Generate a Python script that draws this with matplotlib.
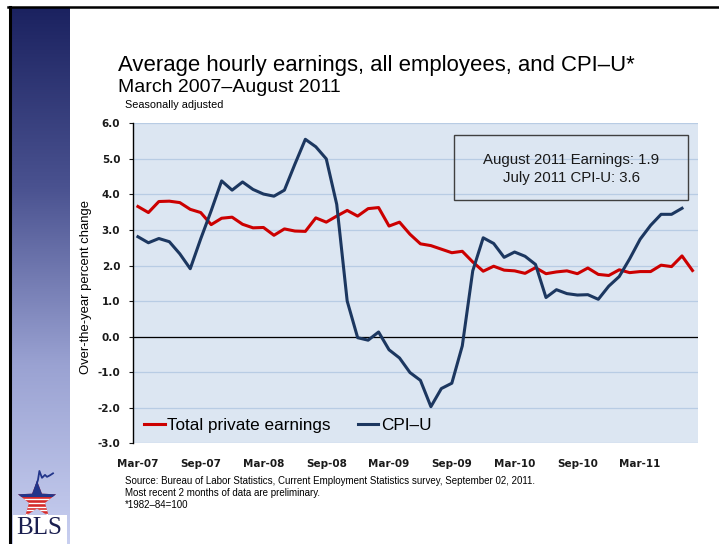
# %%
import numpy as np
import pandas as pd
import matplotlib
matplotlib.use('Agg')
from matplotlib import pyplot as plt
from matplotlib.colors import LinearSegmentedColormap
from matplotlib.patches import Rectangle, Polygon
from matplotlib.lines import Line2D

plt.rcParams['font.family'] = ['Liberation Sans', 'DejaVu Sans']

# %% values (over-the-year % change)
months = pd.date_range('2007-03-01', '2011-08-01', freq='MS')
earnings = [3.66, 3.49, 3.80, 3.81, 3.77, 3.58, 3.49, 3.15, 3.33, 3.36,
            3.16, 3.06, 3.07, 2.85, 3.03, 2.97, 2.96, 3.34, 3.22, 3.39,
            3.55, 3.39, 3.60, 3.63, 3.11, 3.22, 2.88, 2.61, 2.56, 2.46,
            2.36, 2.40, 2.10, 1.84, 1.98, 1.87, 1.85, 1.78, 1.94, 1.77,
            1.82, 1.85, 1.77, 1.93, 1.75, 1.72, 1.88, 1.80, 1.83, 1.83,
            2.01, 1.97, 2.27, 1.86]
cpi = [2.81, 2.64, 2.76, 2.67, 2.33, 1.91, 2.75, 3.54, 4.38, 4.12,
       4.35, 4.14, 4.01, 3.95, 4.12, 4.85, 5.55, 5.34, 5.00, 3.72,
       1.00, -0.03, -0.10, 0.13, -0.37, -0.60, -1.01, -1.23, -1.97, -1.46,
       -1.31, -0.26, 1.85, 2.78, 2.62, 2.23, 2.38, 2.26, 2.03, 1.10,
       1.32, 1.21, 1.17, 1.18, 1.05, 1.42, 1.69, 2.19, 2.74, 3.13,
       3.44, 3.44, 3.61]
yticks = np.arange(-3, 6.01, 1.0)
tick_step = 6

# %%
W, H = 719, 544
fig = plt.figure(figsize=(W / 100, H / 100), dpi=100)

def fx(px):
    return px / W

def fy(py):
    return 1 - py / H

# left sidebar gradient
side = fig.add_axes([fx(11), 0, fx(70) - fx(11), fy(8)])
grad = np.linspace(0, 1, 256).reshape(-1, 1)
side_cmap = LinearSegmentedColormap.from_list('side', ['#1b2260', '#4a5290', '#9aa2d2', '#c8cff0'])
side.imshow(grad, aspect='auto', cmap=side_cmap, extent=[0, 1, 0, 1])
side.axis('off')

fig.add_artist(Line2D([fx(8), 1], [fy(7), fy(7)], color='black', lw=1.8))
fig.add_artist(Line2D([fx(9.5), fx(9.5)], [fy(7), 0], color='black', lw=2.2))

# BLS logo
fig.add_artist(Rectangle((fx(13), 0), fx(67) - fx(13), fy(515), transform=fig.transFigure,
                         fc='white', ec='none'))
logo = fig.add_axes([fx(14), fy(517), fx(60) - fx(14), fy(470) - fy(517)])
logo.set_xlim(-1.15, 1.15)
logo.set_ylim(-0.85, 1.55)
logo.axis('off')
ang = np.pi / 2 + np.arange(10) * np.pi / 5
rad = np.where(np.arange(10) % 2 == 0, 1.0, 0.42)
star = Polygon(np.column_stack([rad * np.cos(ang), rad * np.sin(ang)]), closed=True,
               fc='#d42a2a', ec='none')
logo.add_patch(star)
for yy in np.linspace(-0.7, 0.05, 5):
    ln, = logo.plot([-1.2, 1.2], [yy, yy], color='white', lw=1.0)
    ln.set_clip_path(star)
top = Rectangle((-1.2, 0.17), 2.4, 1.0, fc='#22358a', ec='none')
logo.add_patch(top)
top.set_clip_path(star)
logo.plot([-0.1, 0.05, 0.12, 0.25, 0.4, 0.5, 0.65, 0.8],
          [0.55, 1.05, 1.5, 1.15, 1.3, 1.2, 1.28, 1.38], color='#22358a', lw=1.3)
fig.text(fx(39), fy(528), 'BLS', ha='center', va='center', fontsize=18,
         family='Liberation Serif', color='#1b1f50')

# %% main chart
ax = fig.add_axes([fx(132.7), fy(443.3), fx(697.7) - fx(132.7), fy(123.3) - fy(443.3)])
ax.set_facecolor('#dce6f2')
x = np.arange(len(months))
ax.plot(x, earnings, color='#cc0000', lw=2.2, label='Total private earnings', zorder=3)
ax.plot(x[:len(cpi)], cpi, color='#1c3760', lw=2.2, label='CPI\u2013U', zorder=3)
ax.set_xlim(-0.5, len(months) - 0.5)
ax.set_ylim(yticks[0], yticks[-1])
ax.set_yticks(yticks)
ax.set_yticklabels([f'{v:.1f}' for v in yticks], fontweight='bold', family='DejaVu Sans')
ax.set_xticks(x[::tick_step])
ax.set_xticklabels([m.strftime('%b-%y') for m in months[::tick_step]],
                   fontweight='bold', family='DejaVu Sans')
ax.grid(axis='y', color='#b8cce4', lw=0.9)
ax.set_axisbelow(True)
ax.axhline(0, color='black', lw=0.9, zorder=2)
for s in ['top', 'right', 'bottom']:
    ax.spines[s].set_visible(False)
ax.spines['left'].set_linewidth(1.0)
ax.tick_params(axis='y', length=3, width=0.8, pad=6, labelsize=7.5, colors='#1a1a1a')
ax.tick_params(axis='x', length=0, pad=11, labelsize=7.5, colors='#1a1a1a')

ax.legend(loc='center left', bbox_to_anchor=(0.02, 0.055), ncol=2, frameon=False,
          fontsize=12.3, handlelength=1.2, handletextpad=0.15, columnspacing=1.6,
          borderpad=0, borderaxespad=0)

ax.add_patch(Rectangle((0.569, 0.760), 0.414, 0.2025, transform=ax.transAxes,
                       fill=False, ec='#404040', lw=1.0, zorder=4))
ax.text(0.776, 0.885, f'August 2011 Earnings: {earnings[-1]:.1f}', transform=ax.transAxes,
        ha='center', va='center', fontsize=10.8, color='#1a1a1a')
ax.text(0.776, 0.828, f'July 2011 CPI-U: {cpi[-1]:.1f}', transform=ax.transAxes,
        ha='center', va='center', fontsize=10.8, color='#1a1a1a')

# %% titles and notes
fig.text(fx(118), fy(65), 'Average hourly earnings, all employees, and CPI\u2013U*',
         fontsize=15.9, va='center')
fig.text(fx(118), fy(88), 'March 2007\u2013August 2011', fontsize=14, va='center')
fig.text(fx(125), fy(105.5), 'Seasonally adjusted', fontsize=7.8, va='center')
fig.text(fx(86), fy(287), 'Over-the-year percent change', rotation=90,
         ha='center', va='center', fontsize=9.4)
notes = ['Source: Bureau of Labor Statistics, Current Employment Statistics survey, September 02, 2011.',
         'Most recent 2 months of data are preliminary.',
         '*1982\u201384=100']
for k, line in enumerate(notes):
    fig.text(fx(125), fy(481.5 + 11.7 * k), line, fontsize=7.0, va='center')

plt.savefig('out.png', dpi=100)
